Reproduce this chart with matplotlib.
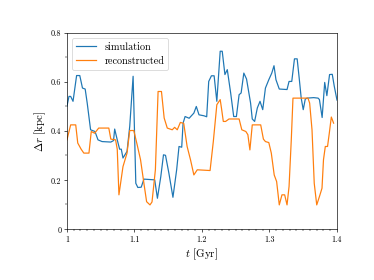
import matplotlib
matplotlib.use('Agg')
import matplotlib.pyplot as plt
from matplotlib.ticker import MultipleLocator

plt.rcParams['font.family'] = 'serif'
plt.rcParams['font.serif'] = ['cmr10']
plt.rcParams['mathtext.fontset'] = 'cm'
plt.rcParams['axes.unicode_minus'] = False

# simulation (blue)
T_SIM = [1.000, 1.003, 1.0055, 1.009, 1.0143, 1.019, 1.023, 1.027, 1.030, 1.035,
         1.0415, 1.046, 1.052, 1.065, 1.069, 1.0707, 1.0745, 1.078, 1.0805, 1.083,
         1.089, 1.093, 1.098, 1.102, 1.105, 1.110, 1.114, 1.130, 1.134, 1.139,
         1.143, 1.146, 1.151, 1.157, 1.1625, 1.166, 1.170, 1.172, 1.175, 1.181,
         1.188, 1.1916, 1.1956, 1.203, 1.207, 1.210, 1.214, 1.218, 1.222, 1.227,
         1.230, 1.234, 1.2375, 1.2425, 1.247, 1.251, 1.255, 1.258, 1.262, 1.266,
         1.272, 1.2745, 1.278, 1.282, 1.286, 1.290, 1.294, 1.299, 1.3034, 1.3067,
         1.3096, 1.3145, 1.326, 1.329, 1.333, 1.337, 1.341, 1.344, 1.347, 1.350,
         1.353, 1.3556, 1.3655, 1.372, 1.374, 1.378, 1.3818, 1.385, 1.389, 1.393,
         1.396, 1.400]
R_SIM = [0.50, 0.54, 0.54, 0.52, 0.625, 0.625, 0.574, 0.57, 0.513, 0.404,
         0.397, 0.363, 0.356, 0.354, 0.36, 0.407, 0.363, 0.325, 0.325, 0.289,
         0.316, 0.418, 0.622, 0.186, 0.169, 0.17, 0.203, 0.20, 0.125, 0.213,
         0.302, 0.30, 0.227, 0.129, 0.241, 0.336, 0.333, 0.431, 0.458, 0.451,
         0.472, 0.499, 0.465, 0.461, 0.457, 0.601, 0.624, 0.624, 0.52, 0.724,
         0.724, 0.629, 0.649, 0.554, 0.458, 0.458, 0.547, 0.554, 0.635, 0.611,
         0.513, 0.448, 0.438, 0.493, 0.52, 0.486, 0.574, 0.608, 0.635, 0.665,
         0.608, 0.570, 0.568, 0.601, 0.601, 0.693, 0.693, 0.615, 0.533, 0.486,
         0.529, 0.533, 0.535, 0.533, 0.527, 0.454, 0.597, 0.543, 0.629, 0.63,
         0.581, 0.525]

# reconstructed (orange)
T_REC = [1.000, 1.0055, 1.013, 1.016, 1.021, 1.025, 1.0326, 1.036, 1.041, 1.047,
         1.062, 1.065, 1.072, 1.0745, 1.077, 1.083, 1.089, 1.093, 1.099, 1.104,
         1.109, 1.114, 1.118, 1.123, 1.126, 1.131, 1.135, 1.140, 1.144, 1.1486,
         1.156, 1.1595, 1.1634, 1.168, 1.173, 1.178, 1.183, 1.188, 1.193, 1.212,
         1.2168, 1.222, 1.227, 1.229, 1.2316, 1.235, 1.240, 1.255, 1.259, 1.265,
         1.268, 1.271, 1.2745, 1.287, 1.291, 1.294, 1.299, 1.3027, 1.307, 1.3106,
         1.3145, 1.3185, 1.3225, 1.326, 1.329, 1.3323, 1.3348, 1.357, 1.3595, 1.363,
         1.3663, 1.370, 1.374, 1.3778, 1.380, 1.3827, 1.386, 1.3886, 1.3916, 1.395]
R_REC = [0.363, 0.424, 0.424, 0.35, 0.325, 0.309, 0.309, 0.397, 0.39, 0.411,
         0.411, 0.366, 0.363, 0.325, 0.139, 0.254, 0.309, 0.401, 0.401, 0.343,
         0.282, 0.186, 0.111, 0.098, 0.11, 0.241, 0.56, 0.56, 0.452, 0.411,
         0.404, 0.414, 0.404, 0.434, 0.43, 0.336, 0.282, 0.22, 0.241, 0.238,
         0.356, 0.506, 0.527, 0.49, 0.438, 0.438, 0.448, 0.448, 0.404, 0.397,
         0.384, 0.322, 0.424, 0.424, 0.366, 0.356, 0.352, 0.309, 0.22, 0.193,
         0.098, 0.139, 0.139, 0.098, 0.173, 0.363, 0.533, 0.533, 0.513, 0.404,
         0.186, 0.098, 0.132, 0.166, 0.282, 0.336, 0.336, 0.39, 0.456, 0.431]

X_TICKS = [1.0, 1.1, 1.2, 1.3, 1.4]
X_LABELS = ['1', '1.1', '1.2', '1.3', '1.4']
Y_TICKS = [0.0, 0.2, 0.4, 0.6, 0.8]
Y_LABELS = ['0', '0.2', '0.4', '0.6', '0.8']

fig, ax = plt.subplots(figsize=(6.4, 4.8), dpi=58.44)
fig.subplots_adjust(left=0.179, right=0.901, bottom=0.182, top=0.882)

ax.plot(T_SIM, R_SIM, label='simulation', color='#1f77b4')
ax.plot(T_REC, R_REC, label='reconstructed', color='#ff7f0e')

ax.set_xlim(1.0, 1.4)
ax.set_ylim(0, 0.8)
ax.set_xticks(X_TICKS)
ax.set_xticklabels(X_LABELS)
ax.set_yticks(Y_TICKS)
ax.set_yticklabels(Y_LABELS)
ax.xaxis.set_minor_locator(MultipleLocator(0.01))
ax.yaxis.set_minor_locator(MultipleLocator(0.1))
ax.tick_params(labelsize=10)

ax.set_xlabel(r'$t$ [Gyr]', fontsize=13.5)
ax.set_ylabel(r'$\Delta r$ [kpc]', fontsize=13.5)
ax.legend(loc='upper left', fontsize=12.5)

fig.savefig('out.png', dpi=58.44)
